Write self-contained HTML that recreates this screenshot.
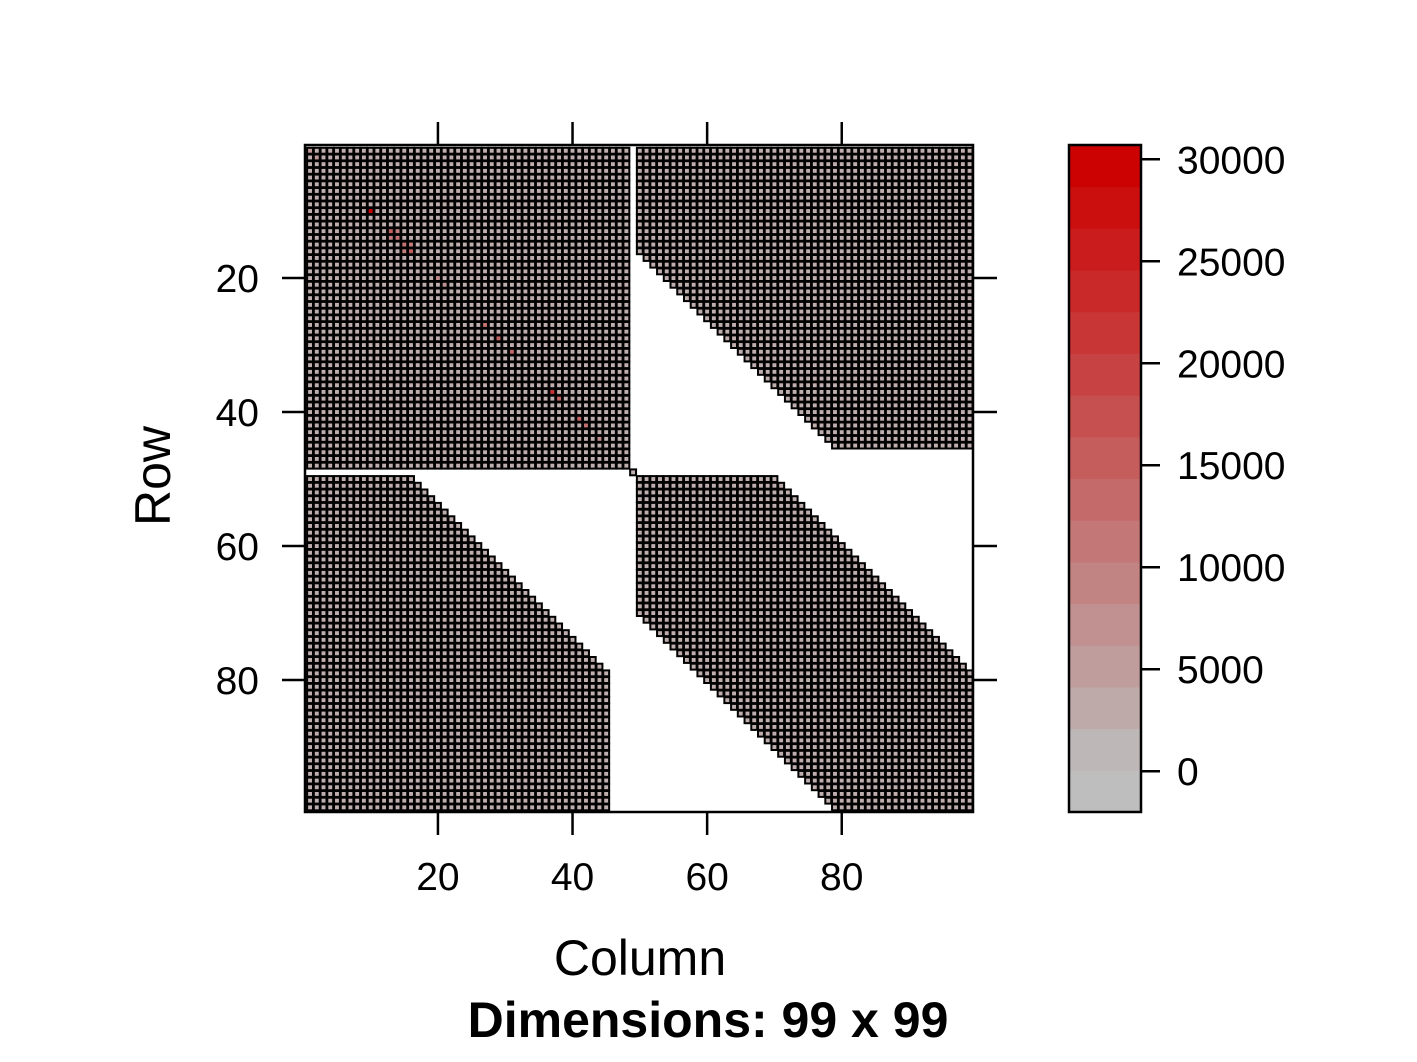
<!DOCTYPE html>
<html><head><meta charset="utf-8">
<style>
html,body{margin:0;padding:0;background:#fff;}
svg{display:block;font-family:"Liberation Sans",Arial,sans-serif;}
</style></head>
<body>
<svg id="chart" width="1417" height="1062" viewBox="0 0 1417 1062">
<g id="cells"></g>
<g id="axes"></g>
<g id="colorkey"></g>
<text x="640" y="975" font-size="50" text-anchor="middle">Column</text>
<text transform="translate(170,476) rotate(-90)" font-size="50" text-anchor="middle">Row</text>
<text x="708" y="1037" font-size="50" font-weight="bold" text-anchor="middle">Dimensions: 99 x 99</text>
</svg>
<script>
const nDim = 99;
const axisTicks = [20, 40, 60, 80];
const keyTicks = [0, 5000, 10000, 15000, 20000, 25000, 30000];
const baseValue = 2500;
const hiRows = [1,2,10,13,13,14,14,15,15,16,16,20,21,27,29,31,37,38,41,42,44];
const hiCols = [1,2,10,13,14,13,14,15,16,15,16,20,21,27,29,31,37,38,41,42,44];
const hiVals = [6000,6000,30000,15000,10000,10000,12000,12000,10000,10000,15000,8000,7000,12000,14000,14000,22000,14000,14000,12000,8000];

const NS = "http://www.w3.org/2000/svg";
const plotL = 306.7, plotT = 147.4, cw = 6.73, ch = 6.70;
function xPos(c){ return plotL + (c - 1) * cw; }
function yPos(r){ return plotT + (r - 1) * ch; }
function nonzero(r, c){
  if (r <= 48 && c <= 48) return true;
  if (r === 49 && c === 49) return true;
  if (r <= 45 && c >= 50) return c >= Math.max(50, r + 34);
  if (c <= 45 && r >= 50) return r >= Math.max(50, c + 34);
  if (r >= 50 && c >= 50) return Math.abs(r - c) <= 20;
  return false;
}
const vmin = -2000, vmax = 30700;
function color(v){
  let t = Math.max(0, Math.min(1, (v - 0) / 30000));
  const r = Math.round(190 + (204 - 190) * t), g = Math.round(190 * (1 - t)), b = Math.round(190 * (1 - t));
  return `rgb(${r},${g},${b})`;
}
const hiMap = {};
for (let i = 0; i < hiRows.length; i++) hiMap[hiRows[i] + "," + hiCols[i]] = hiVals[i];

const cells = document.getElementById("cells");
let blacks = "", fills = "";
for (let r = 1; r <= nDim; r++) {
  for (let c = 1; c <= nDim; c++) {
    if (!nonzero(r, c)) continue;
    const x = xPos(c), y = yPos(r);
    const v = hiMap[r + "," + c] !== undefined ? hiMap[r + "," + c] : (hiMap[c + "," + r] !== undefined ? hiMap[c + "," + r] : baseValue);
    blacks += `<rect x="${(x-0.6).toFixed(2)}" y="${(y-0.6).toFixed(2)}" width="${(cw+1.2).toFixed(2)}" height="${(ch+1.2).toFixed(2)}" fill="#000"/>`;
    fills += `<rect x="${(x+1.4).toFixed(2)}" y="${(y+1.4).toFixed(2)}" width="3.9" height="3.9" fill="${color(v)}"/>`;
  }
}
cells.innerHTML = blacks + fills;
cells.querySelectorAll("rect").forEach(el => {
  
  
});

const axes = document.getElementById("axes");
const L = 305, R = 973, T = 145, B = 812;
function addEl(parent, tag, attrs, text){
  const el = document.createElementNS(NS, tag);
  for (const k in attrs) el.setAttribute(k, attrs[k]);
  if (text !== undefined) el.textContent = text;
  parent.appendChild(el);
  return el;
}
let box = addEl(axes, "rect", {x:L, y:T, width:R-L, height:B-T, fill:"none", stroke:"#000", "stroke-width":2.5});


axisTicks.forEach(t => {
  const x = xPos(t) + cw / 2, y = yPos(t) + ch / 2;
  let e;
  e = addEl(axes, "line", {x1:x, x2:x, y1:T-23, y2:T, stroke:"#000", "stroke-width":2.5});
  
  
  e = addEl(axes, "line", {x1:x, x2:x, y1:B, y2:B+23, stroke:"#000", "stroke-width":2.5});
  
  
  e = addEl(axes, "line", {x1:L-23, x2:L, y1:y, y2:y, stroke:"#000", "stroke-width":2.5});
  
  
  e = addEl(axes, "line", {x1:R, x2:R+24, y1:y, y2:y, stroke:"#000", "stroke-width":2.5});
  
  
  e = addEl(axes, "text", {x:x, y:890, "font-size":39, "text-anchor":"middle"}, String(t));
  
  
  e = addEl(axes, "text", {x:259, y:y+14, "font-size":39, "text-anchor":"end"}, String(t));
  
  
});

const ck = document.getElementById("colorkey");
const kL = 1069, kR = 1141, kT = 145, kB = 812, nBands = 16;
function kY(v){ return kB - (v - vmin) / (vmax - vmin) * (kB - kT); }
for (let i = 0; i < nBands; i++) {
  const v0 = vmin + (vmax - vmin) * i / nBands, v1 = vmin + (vmax - vmin) * (i + 1) / nBands;
  const e = addEl(ck, "rect", {x:kL, y:kY(v1), width:kR-kL, height:kY(v0)-kY(v1)+0.5, fill:color((v0+v1)/2)});
  
  
}
let e = addEl(ck, "rect", {x:kL, y:kT, width:kR-kL, height:kB-kT, fill:"none", stroke:"#000", "stroke-width":2.5});


keyTicks.forEach(t => {
  const y = kY(t);
  let e1 = addEl(ck, "line", {x1:kR, x2:kR+19, y1:y, y2:y, stroke:"#000", "stroke-width":2.5});
  
  
  let e2 = addEl(ck, "text", {x:1177, y:y+14, "font-size":39}, String(t));
  
  
});
</script>
</body></html>
